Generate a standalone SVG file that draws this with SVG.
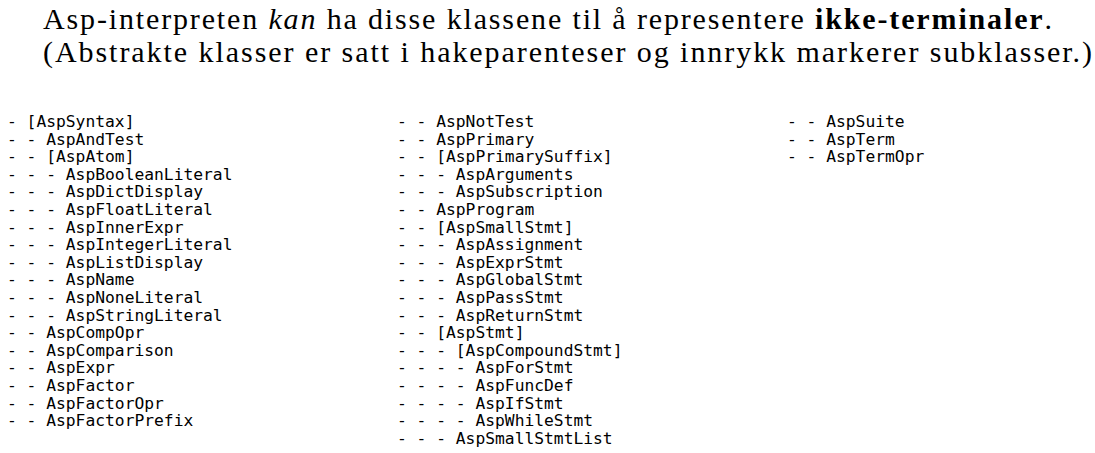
<svg xmlns="http://www.w3.org/2000/svg" width="1095" height="453" viewBox="0 0 1095 453">
<style>
.t{font-family:"Liberation Serif","Times New Roman",serif;font-size:30px;fill:#000}
.m{font-family:"DejaVu Sans Mono","Liberation Mono",monospace;font-size:16.3px;fill:#000;white-space:pre}
</style>
<rect width="1095" height="453" fill="#fff"/>
<g id="title">
<text class="t" x="43" y="29" textLength="1009" lengthAdjust="spacing">Asp-interpreten <tspan font-style="italic">kan</tspan> ha disse klassene til å representere <tspan font-weight="bold">ikke-terminaler</tspan>.</text>
<text class="t" x="43" y="62" textLength="1049" lengthAdjust="spacing">(Abstrakte klasser er satt i hakeparenteser og innrykk markerer subklasser.)</text>
</g>
<g id="col1" class="m">
<text x="7" y="127" class="m">- [AspSyntax]</text>
<text x="7" y="144.6" class="m">- - AspAndTest</text>
<text x="7" y="162.2" class="m">- - [AspAtom]</text>
<text x="7" y="179.8" class="m">- - - AspBooleanLiteral</text>
<text x="7" y="197.4" class="m">- - - AspDictDisplay</text>
<text x="7" y="215" class="m">- - - AspFloatLiteral</text>
<text x="7" y="232.6" class="m">- - - AspInnerExpr</text>
<text x="7" y="250.2" class="m">- - - AspIntegerLiteral</text>
<text x="7" y="267.8" class="m">- - - AspListDisplay</text>
<text x="7" y="285.4" class="m">- - - AspName</text>
<text x="7" y="303" class="m">- - - AspNoneLiteral</text>
<text x="7" y="320.6" class="m">- - - AspStringLiteral</text>
<text x="7" y="338.2" class="m">- - AspCompOpr</text>
<text x="7" y="355.8" class="m">- - AspComparison</text>
<text x="7" y="373.4" class="m">- - AspExpr</text>
<text x="7" y="391" class="m">- - AspFactor</text>
<text x="7" y="408.6" class="m">- - AspFactorOpr</text>
<text x="7" y="426.2" class="m">- - AspFactorPrefix</text>
</g>
<g id="col2" class="m">
<text x="397" y="127" class="m">- - AspNotTest</text>
<text x="397" y="144.6" class="m">- - AspPrimary</text>
<text x="397" y="162.2" class="m">- - [AspPrimarySuffix]</text>
<text x="397" y="179.8" class="m">- - - AspArguments</text>
<text x="397" y="197.4" class="m">- - - AspSubscription</text>
<text x="397" y="215" class="m">- - AspProgram</text>
<text x="397" y="232.6" class="m">- - [AspSmallStmt]</text>
<text x="397" y="250.2" class="m">- - - AspAssignment</text>
<text x="397" y="267.8" class="m">- - - AspExprStmt</text>
<text x="397" y="285.4" class="m">- - - AspGlobalStmt</text>
<text x="397" y="303" class="m">- - - AspPassStmt</text>
<text x="397" y="320.6" class="m">- - - AspReturnStmt</text>
<text x="397" y="338.2" class="m">- - [AspStmt]</text>
<text x="397" y="355.8" class="m">- - - [AspCompoundStmt]</text>
<text x="397" y="373.4" class="m">- - - - AspForStmt</text>
<text x="397" y="391" class="m">- - - - AspFuncDef</text>
<text x="397" y="408.6" class="m">- - - - AspIfStmt</text>
<text x="397" y="426.2" class="m">- - - - AspWhileStmt</text>
<text x="397" y="443.8" class="m">- - - AspSmallStmtList</text>
</g>
<g id="col3" class="m">
<text x="787" y="127" class="m">- - AspSuite</text>
<text x="787" y="144.6" class="m">- - AspTerm</text>
<text x="787" y="162.2" class="m">- - AspTermOpr</text>
</g>
</svg>
